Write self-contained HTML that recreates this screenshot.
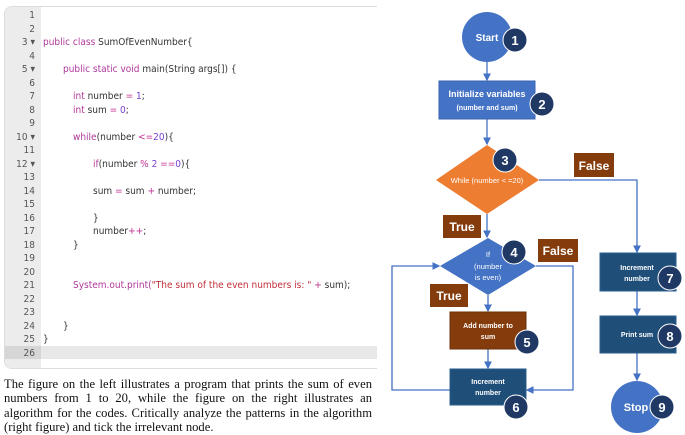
<!DOCTYPE html>
<html><head><meta charset="utf-8"><style>
body{margin:0;width:685px;height:434px;background:#fff;position:relative;overflow:hidden}
.panel{position:absolute;left:4px;top:6px;width:372px;height:361px;border:1px solid #ddd;border-right:none;border-radius:8px 0 0 8px;background:#fff;overflow:hidden}
.gut{position:absolute;left:0;top:0;width:36px;height:100%;background:#ececec}
.hl{position:absolute;left:0;top:339px;width:372px;height:13px;background:#e8e8e8}
.hl2{position:absolute;left:0;top:339px;width:36px;height:13px;background:#d6d6d6}
.ln{position:absolute;left:0;width:30px;text-align:right;font:10px "DejaVu Sans Condensed","Liberation Sans",sans-serif;color:#555}
.cd{position:absolute;font:10px "DejaVu Sans Condensed","Liberation Sans",sans-serif;color:#333;white-space:pre}
.k{color:#b0389a}.n{color:#7a3fd0}.s{color:#c0303a}.o{color:#c03090}
.cap{position:absolute;left:4px;top:377px;width:368px;font:12.6px/14.4px "Liberation Serif",serif;text-align:justify;color:#111}
</style></head><body>
<div class="panel">
<div class="gut"></div><div class="hl"></div><div class="hl2"></div>
<div class="ln" style="top:3px">1</div><div class="ln" style="top:16.5px">2</div><div class="ln" style="top:30px">3 ▾</div><div class="ln" style="top:43.5px">4</div><div class="ln" style="top:57px">5 ▾</div><div class="ln" style="top:70.5px">6</div><div class="ln" style="top:84px">7</div><div class="ln" style="top:97.5px">8</div><div class="ln" style="top:111px">9</div><div class="ln" style="top:124.5px">10 ▾</div><div class="ln" style="top:138px">11</div><div class="ln" style="top:151.5px">12 ▾</div><div class="ln" style="top:165px">13</div><div class="ln" style="top:178.5px">14</div><div class="ln" style="top:192px">15</div><div class="ln" style="top:205.5px">16</div><div class="ln" style="top:219px">17</div><div class="ln" style="top:232.5px">18</div><div class="ln" style="top:246px">19</div><div class="ln" style="top:259.5px">20</div><div class="ln" style="top:273px">21</div><div class="ln" style="top:286.5px">22</div><div class="ln" style="top:300px">23</div><div class="ln" style="top:313.5px">24</div><div class="ln" style="top:327px">25</div><div class="ln" style="top:340.5px">26</div>
<div class="cd" style="left:38px;top:30px"><span class="k">public class</span> SumOfEvenNumber{</div>
<div class="cd" style="left:58px;top:57px"><span class="k">public static void</span> main(String args[]) {</div>
<div class="cd" style="left:68px;top:84px"><span class="k">int</span> number <span class="o">=</span> <span class="n">1</span>;</div>
<div class="cd" style="left:68px;top:97.5px"><span class="k">int</span> sum <span class="o">=</span> <span class="n">0</span>;</div>
<div class="cd" style="left:68px;top:124.5px"><span class="k">while</span>(number <span class="o">&lt;=</span><span class="n">20</span>){</div>
<div class="cd" style="left:88px;top:151.5px"><span class="k">if</span>(number <span class="o">%</span> <span class="n">2</span> <span class="o">==</span><span class="n">0</span>){</div>
<div class="cd" style="left:88px;top:178.5px">sum <span class="o">=</span> sum <span class="o">+</span> number;</div>
<div class="cd" style="left:88px;top:205.5px">}</div>
<div class="cd" style="left:88px;top:219px">number<span class="o">++</span>;</div>
<div class="cd" style="left:68px;top:232.5px">}</div>
<div class="cd" style="left:68px;top:273px"><span class="k">System.out.print(</span><span class="s">"The sum of the even numbers is: "</span> <span class="o">+</span> sum);</div>
<div class="cd" style="left:58px;top:313.5px">}</div>
<div class="cd" style="left:38px;top:327px">}</div>
</div>
<div class="cap">The figure on the left illustrates a program that prints the sum of even numbers from 1 to 20, while the figure on the right illustrates an algorithm for the codes. Critically analyze the patterns in the algorithm (right figure) and tick the irrelevant node.</div>
<svg width="685" height="434" style="position:absolute;left:0;top:0" font-family="Liberation Sans, sans-serif" font-weight="bold">
<defs><marker id="a" markerWidth="6" markerHeight="6" refX="5" refY="3" orient="auto"><path d="M0,0L6,3L0,6z" fill="#4472C4"/></marker></defs>
<g stroke="#4472C4" stroke-width="1.3" fill="none">
<line x1="487" y1="62" x2="487" y2="80" marker-end="url(#a)"/>
<line x1="487" y1="119" x2="487" y2="144" marker-end="url(#a)"/>
<line x1="487" y1="214" x2="487" y2="237" marker-end="url(#a)"/>
<polyline points="539,180 637,180 637,252" marker-end="url(#a)"/>
<line x1="488" y1="295" x2="488" y2="311" marker-end="url(#a)"/>
<line x1="488" y1="349" x2="488" y2="368" marker-end="url(#a)"/>
<polyline points="450,390 392,390 392,266 439,266" marker-end="url(#a)"/>
<polyline points="536,266 573,266 573,390 527,390" marker-end="url(#a)"/>
<line x1="637" y1="291" x2="637" y2="315" marker-end="url(#a)"/>
<line x1="637" y1="353" x2="637" y2="380" marker-end="url(#a)"/>
</g>
<circle cx="487" cy="37" r="25" fill="#4472C4"/>
<text x="487" y="41" fill="#fff" font-size="10" text-anchor="middle">Start</text>
<rect x="439" y="81" width="96" height="38" fill="#4472C4" stroke="#3a64b0"/>
<text x="487" y="97" fill="#fff" font-size="9" text-anchor="middle">Initialize variables</text>
<text x="487" y="110" fill="#fff" font-size="7" text-anchor="middle">(number and sum)</text>
<polygon points="487,145 539,180 487,214 436,180" fill="#ED7D31"/>
<text x="487" y="183" fill="#fff" font-size="7.5" text-anchor="middle" font-weight="normal">While (number &lt; =20)</text>
<rect x="574" y="153" width="40" height="24" fill="#843C0C"/><text x="594" y="170" fill="#fff" font-size="12" text-anchor="middle">False</text>
<rect x="443" y="215" width="38" height="23" fill="#843C0C"/><text x="462" y="231" fill="#fff" font-size="12" text-anchor="middle">True</text>
<polygon points="488,238 536,266 488,295 440,266" fill="#4472C4"/>
<text x="488" y="257" fill="#fff" font-size="7.5" text-anchor="middle" font-weight="normal">If</text>
<text x="488" y="269" fill="#fff" font-size="7.5" text-anchor="middle" font-weight="normal">(number</text>
<text x="488" y="280" fill="#fff" font-size="7.5" text-anchor="middle" font-weight="normal">is even)</text>
<rect x="538" y="239" width="40" height="23" fill="#843C0C"/><text x="558" y="255" fill="#fff" font-size="12" text-anchor="middle">False</text>
<rect x="430" y="284" width="38" height="23" fill="#843C0C"/><text x="449" y="300" fill="#fff" font-size="12" text-anchor="middle">True</text>
<rect x="450" y="312" width="76" height="37" fill="#843C0C" stroke="#6b300a"/>
<text x="488" y="328" fill="#fff" font-size="7" text-anchor="middle">Add number to</text>
<text x="488" y="339" fill="#fff" font-size="7" text-anchor="middle">sum</text>
<rect x="450" y="369" width="76" height="36" fill="#1F4E79" stroke="#2a5d8f"/>
<text x="488" y="384" fill="#fff" font-size="7" text-anchor="middle">Increment</text>
<text x="488" y="395" fill="#fff" font-size="7" text-anchor="middle">number</text>
<rect x="600" y="253" width="76" height="38" fill="#1F4E79" stroke="#2a5d8f"/>
<text x="637" y="270" fill="#fff" font-size="7" text-anchor="middle">Increment</text>
<text x="637" y="281" fill="#fff" font-size="7" text-anchor="middle">number</text>
<rect x="600" y="316" width="76" height="37" fill="#1F4E79" stroke="#2a5d8f"/>
<text x="637" y="337" fill="#fff" font-size="7" text-anchor="middle">Print sum</text>
<circle cx="637" cy="407" r="26" fill="#4472C4"/>
<text x="636" y="411" fill="#fff" font-size="11" text-anchor="middle">Stop</text>
<g fill="#1F3864" stroke="#fff" stroke-width="1">
<circle cx="515" cy="40" r="12"/><circle cx="542" cy="104" r="12"/><circle cx="505" cy="160" r="12"/><circle cx="514" cy="252" r="12"/><circle cx="527" cy="342" r="12"/><circle cx="516" cy="407" r="12"/><circle cx="670" cy="278" r="12"/><circle cx="670" cy="336" r="12"/><circle cx="662" cy="407" r="12"/>
</g>
<g fill="#fff" font-size="13" text-anchor="middle">
<text x="515" y="45">1</text><text x="542" y="109">2</text><text x="505" y="165">3</text><text x="514" y="257">4</text><text x="527" y="347">5</text><text x="516" y="412">6</text><text x="670" y="283">7</text><text x="670" y="341">8</text><text x="662" y="412">9</text>
</g>
</svg>
</body></html>
